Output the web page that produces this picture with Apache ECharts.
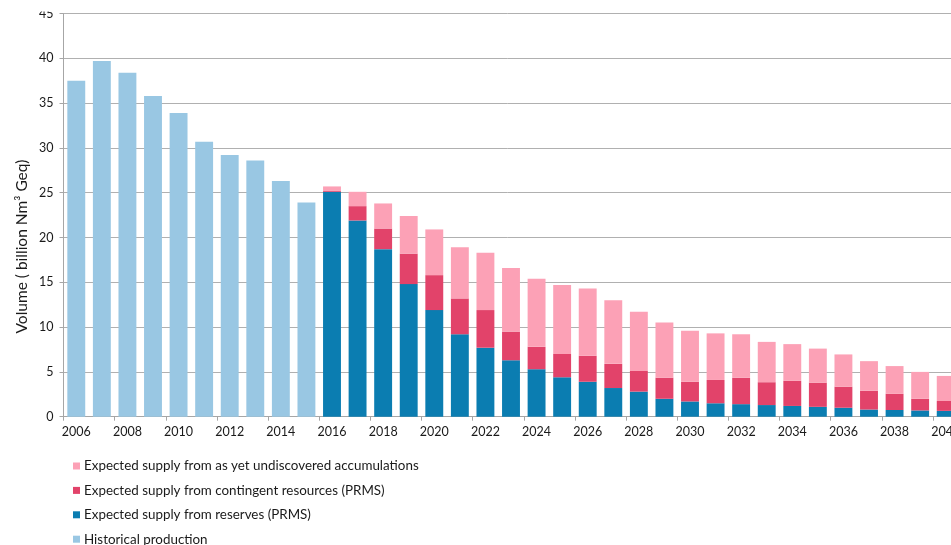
<!DOCTYPE html>
<html>
<head>
<meta charset="utf-8">
<script src="https://cdn.jsdelivr.net/npm/echarts@6/dist/echarts.min.js"></script>
<style>
  html, body { margin: 0; padding: 0; background: #ffffff; }
  #chart { width: 951px; height: 545px; }
</style>
</head>
<body>
<div id="chart"></div>
<script>
// Years on the category axis
const years = [];
for (let y = 2006; y <= 2040; y++) years.push(String(y));

// Historical production 2006–2015 (billion Nm3 Geq)
const historical = [37.5, 39.7, 38.4, 35.8, 33.9, 30.7, 29.2, 28.6, 26.3, 23.9];

// Expected supply from reserves (PRMS), 2016–2040
const reserves = [25.1, 21.9, 18.7, 14.8, 11.9, 9.2, 7.7, 6.3, 5.3, 4.4, 3.9, 3.2, 2.8,
                  2.0, 1.7, 1.5, 1.4, 1.3, 1.2, 1.1, 1.0, 0.8, 0.75, 0.7, 0.65];

// Expected supply from contingent resources (PRMS), 2016–2040
const contingent = [0.1, 1.6, 2.3, 3.4, 3.9, 4.0, 4.2, 3.2, 2.5, 2.6, 2.9, 2.7, 2.3,
                    2.35, 2.2, 2.6, 2.95, 2.55, 2.8, 2.7, 2.35, 2.1, 1.8, 1.3, 1.1];

// Expected supply from as yet undiscovered accumulations, 2016–2040
const undiscovered = [0.5, 1.6, 2.8, 4.2, 5.1, 5.7, 6.4, 7.1, 7.6, 7.7, 7.5, 7.1, 6.6,
                      6.15, 5.7, 5.2, 4.85, 4.5, 4.1, 3.8, 3.6, 3.3, 3.1, 3.0, 2.8];

const seriesNames = {
  hist: 'Historical production',
  res: 'Expected supply from reserves (PRMS)',
  cont: 'Expected supply from contingent resources (PRMS)',
  und: 'Expected supply from as yet undiscovered accumulations'
};

const colors = {
  hist: '#99c7e3',
  res: '#0b7db1',
  cont: '#e2436a',
  und: '#fca1b6'
};

// Legend rows, top to bottom
const legendOrder = ['und', 'cont', 'res', 'hist'];

// Pad each series to the full year range
const nHist = historical.length;
const histData = years.map((_, i) => i < nHist ? historical[i] : '-');
const pad = arr => years.map((_, i) => i < nHist ? '-' : arr[i - nHist]);

const font = 'Lato, "Open Sans", sans-serif';

const chart = echarts.init(document.getElementById('chart'), null, { renderer: 'canvas' });

function bar(key, data) {
  return {
    name: seriesNames[key],
    type: 'bar',
    stack: 'total',
    data: data,
    barCategoryGap: '30%',
    itemStyle: { color: colors[key] },
    emphasis: { disabled: true }
  };
}

// One legend block per row so the list stays in a single column
const legends = legendOrder.map((key, i) => ({
  orient: 'vertical',
  left: 73,
  top: 459.5 + i * 24.4,
  padding: 0,
  itemWidth: 7,
  itemHeight: 7,
  itemGap: 0,
  icon: 'rect',
  textStyle: { fontSize: 13.4, color: '#1a1a1a', fontFamily: font, padding: [0, 0, 0, -1] },
  data: [seriesNames[key]],
  selectedMode: false
}));

chart.setOption({
  animation: false,
  backgroundColor: '#ffffff',
  textStyle: { fontFamily: font },
  // the plot runs past the right edge of the canvas
  grid: { left: 63.5, top: 13.5, width: 895, height: 403.2, containLabel: false, outerBoundsMode: 'none' },
  xAxis: {
    type: 'category',
    data: years,
    axisLine: { show: true, lineStyle: { color: '#a6a6a6', width: 1 } },
    axisTick: { show: true, length: 4, lineStyle: { color: '#a6a6a6' } },
    axisLabel: { interval: 1, color: '#1a1a1a', fontSize: 12.5, fontFamily: font, margin: 9, hideOverlap: false }
  },
  yAxis: {
    type: 'value',
    min: 0, max: 45, interval: 5,
    axisLine: { show: true, lineStyle: { color: '#a6a6a6', width: 1 } },
    axisTick: { show: true, length: 4, lineStyle: { color: '#a6a6a6' } },
    axisLabel: { color: '#1a1a1a', fontSize: 12.5, fontFamily: font, margin: 10 },
    splitLine: { show: true, lineStyle: { color: '#b0b0b0', width: 1 } }
  },
  legend: legends,
  graphic: [
    {
      type: 'text',
      x: 22,
      y: 246.5,
      rotation: Math.PI / 2,
      style: {
        text: 'Volume ( billion Nm³ Geq)',
        font: '15.5px ' + font,
        fill: '#1a1a1a',
        align: 'center',
        verticalAlign: 'middle'
      }
    },
    {
      type: 'rect',
      z: 100,
      shape: { x: 0, y: 0, width: 62, height: 11.5 },
      style: { fill: '#ffffff' }
    }
  ],
  series: [
    bar('hist', histData),
    bar('res', pad(reserves)),
    bar('cont', pad(contingent)),
    bar('und', pad(undiscovered))
  ]
});
</script>
</body>
</html>
